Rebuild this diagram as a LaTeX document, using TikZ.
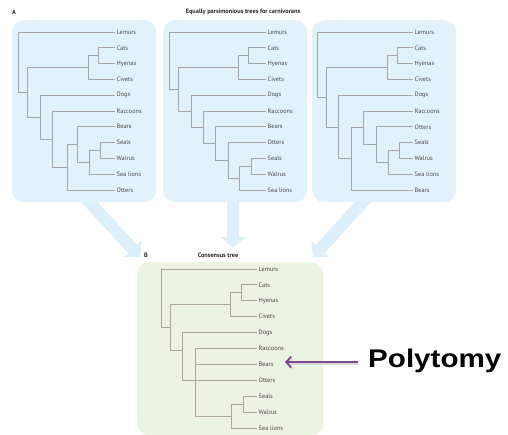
\documentclass[tikz,border=0pt]{standalone}
\usepackage{fontspec}
\setmainfont{PT Sans}
\newfontfamily\polyfont{Liberation Sans}
\usetikzlibrary{arrows.meta}
\definecolor{panelblue}{HTML}{E2F2FB}
\definecolor{arrowblue}{HTML}{DCEFFA}
\definecolor{panelgreen}{HTML}{EBF3E2}
\definecolor{treegray}{HTML}{A6A6A6}
\definecolor{treebrown}{HTML}{ABA792}
\definecolor{labelgray}{HTML}{484848}
\definecolor{polypurple}{HTML}{7B4A8B}
\tikzset{
  panel/.style={fill=panelblue, draw=none, rounded corners=12pt, anchor=north west, inner sep=0pt},
  cpanel/.style={fill=panelgreen, draw=none, rounded corners=12pt, anchor=north west, inner sep=0pt},
  leaf/.style={anchor=west, inner sep=1.5pt, font=\fontsize{6.3}{7}\selectfont, text=labelgray},
  tree/.style={draw=treegray, line width=0.85pt},
  ctree/.style={draw=treebrown, line width=0.85pt},
  bigarrow/.style={draw=arrowblue, line width=12pt, -{Triangle[length=11pt,width=24pt]}},
  titletext/.style={font=\bfseries\fontsize{6.3}{7}\selectfont, text=black!85, inner sep=0pt},
}
\begin{document}
\begin{tikzpicture}[x=1pt,y=-1pt]
\useasboundingbox (0,0) rectangle (508,435);
\fill[white] (0,0) rectangle (508,435);

% big arrows (behind panels)
\coordinate (s1) at (81,193);  \coordinate (t1) at (140,257);
\coordinate (s2) at (233,195); \coordinate (t2) at (233,248);
\coordinate (s3) at (371,193); \coordinate (t3) at (313,257);
\draw[bigarrow] (s1) -- (t1);
\draw[bigarrow] (s2) -- (t2);
\draw[bigarrow] (s3) -- (t3);

% panels
\node[panel, minimum width=144pt, minimum height=182pt] (pA1) at (12,20) {};
\node[panel, minimum width=144pt, minimum height=182pt] (pA2) at (163,20) {};
\node[panel, minimum width=144pt, minimum height=182pt] (pA3) at (312,20) {};
\node[cpanel, minimum width=186pt, minimum height=173pt] (pB) at (137,262) {};

% titles
\node[titletext] (lA) at (14,12) {A};
\node[titletext] (tA) at (243,12) {Equally parsimonious trees for carnivorans};
\node[titletext] (lB) at (146,255) {B};
\node[titletext] (tB) at (218,255) {Consensus tree};

% ---------- tree 1 ----------
\begin{scope}[shift={(0,32)}, y=-15.8pt]
\foreach \t [count=\i from 0] in {Lemurs,Cats,Hyenas,Civets,Dogs,Raccoons,Bears,Seals,Walrus,Sea lions,Otters}
  \node[leaf] (a\i) at (115,\i) {\t};
\coordinate (ach) at (98,1.5);
\coordinate (afe) at (88,2.25);
\coordinate (asw) at (100,7.5);
\coordinate (api) at (89,8.25);
\coordinate (abe) at (77,7.125);
\coordinate (aot) at (67,8.5625);
\coordinate (ara) at (52,6.78125);
\coordinate (aca) at (40,5.390625);
\coordinate (are) at (27,3.8203);
\coordinate (aro) at (18,1.910);
\draw[tree] (aro) |- (a0.west) (aro) |- (are)
  (are) |- (afe) (are) |- (aca)
  (afe) |- (ach) (afe) |- (a3.west)
  (ach) |- (a1.west) (ach) |- (a2.west)
  (aca) |- (a4.west) (aca) |- (ara)
  (ara) |- (a5.west) (ara) |- (aot)
  (aot) |- (abe) (aot) |- (a10.west)
  (abe) |- (a6.west) (abe) |- (api)
  (api) |- (asw) (api) |- (a9.west)
  (asw) |- (a7.west) (asw) |- (a8.west);
\end{scope}

% ---------- tree 2 ----------
\begin{scope}[shift={(0,32)}, y=-15.8pt]
\foreach \t [count=\i from 0] in {Lemurs,Cats,Hyenas,Civets,Dogs,Raccoons,Bears,Otters,Seals,Walrus,Sea lions}
  \node[leaf] (b\i) at (266,\i) {\t};
\coordinate (bch) at (248,1.5);
\coordinate (bfe) at (238,2.25);
\coordinate (bsw) at (251,8.5);
\coordinate (bpi) at (239,9.25);
\coordinate (bot) at (228,8.125);
\coordinate (bbe) at (215,7.0625);
\coordinate (bra) at (203,6.03125);
\coordinate (bca) at (191,5.015625);
\coordinate (bre) at (178,3.6328);
\coordinate (bro) at (169,1.8164);
\draw[tree] (bro) |- (b0.west) (bro) |- (bre)
  (bre) |- (bfe) (bre) |- (bca)
  (bfe) |- (bch) (bfe) |- (b3.west)
  (bch) |- (b1.west) (bch) |- (b2.west)
  (bca) |- (b4.west) (bca) |- (bra)
  (bra) |- (b5.west) (bra) |- (bbe)
  (bbe) |- (b6.west) (bbe) |- (bot)
  (bot) |- (b7.west) (bot) |- (bpi)
  (bpi) |- (bsw) (bpi) |- (b10.west)
  (bsw) |- (b8.west) (bsw) |- (b9.west);
\end{scope}

% ---------- tree 3 ----------
\begin{scope}[shift={(0,32)}, y=-15.8pt]
\foreach \t [count=\i from 0] in {Lemurs,Cats,Hyenas,Civets,Dogs,Raccoons,Otters,Seals,Walrus,Sea lions,Bears}
  \node[leaf] (c\i) at (413,\i) {\t};
\coordinate (cch) at (397,1.5);
\coordinate (cfe) at (387,2.25);
\coordinate (csw) at (399,7.5);
\coordinate (cpi) at (388,8.25);
\coordinate (cot) at (376,7.125);
\coordinate (cra) at (363,6.0625);
\coordinate (cbs) at (351,8.03125);
\coordinate (cca) at (338,6.015625);
\coordinate (cre) at (326,4.1328);
\coordinate (cro) at (317,2.066);
\draw[tree] (cro) |- (c0.west) (cro) |- (cre)
  (cre) |- (cfe) (cre) |- (cca)
  (cfe) |- (cch) (cfe) |- (c3.west)
  (cch) |- (c1.west) (cch) |- (c2.west)
  (cca) |- (c4.west) (cca) |- (cbs)
  (cbs) |- (cra) (cbs) |- (c10.west)
  (cra) |- (c5.west) (cra) |- (cot)
  (cot) |- (c6.west) (cot) |- (cpi)
  (cpi) |- (csw) (cpi) |- (c9.west)
  (csw) |- (c7.west) (csw) |- (c8.west);
\end{scope}

% ---------- consensus tree ----------
\begin{scope}[shift={(0,269)}, y=-15.9pt]
\foreach \t [count=\i from 0] in {Lemurs,Cats,Hyenas,Civets,Dogs,Raccoons,Bears,Otters,Seals,Walrus,Sea lions}
  \node[leaf] (d\i) at (257,\i) {\t};
\coordinate (dch) at (241,1.5);
\coordinate (dfe) at (230,2.25);
\coordinate (dsw) at (243,8.5);
\coordinate (dpi) at (231,9.25);
\coordinate (dpo) at (195,7);
\coordinate (dca) at (182,5.1);
\coordinate (dre) at (170,3.675);
\coordinate (dro) at (161,1.84);
\draw[ctree] (dro) |- (d0.west) (dro) |- (dre)
  (dre) |- (dfe) (dre) |- (dca)
  (dfe) |- (dch) (dfe) |- (d3.west)
  (dch) |- (d1.west) (dch) |- (d2.west)
  (dca) |- (d4.west) (dca) |- (d7.west)
  (dpo) |- (d5.west) (dpo) |- (d6.west) (dpo) |- (dpi)
  (dpi) |- (dsw) (dpi) |- (d10.west)
  (dsw) |- (d8.west) (dsw) |- (d9.west);
\end{scope}

% polytomy label and arrow
\node[anchor=west, inner sep=0pt, font=\polyfont\bfseries\fontsize{25.5}{28}\selectfont] (poly) at (368,361) {\scalebox{1.16}[1]{Polytomy}};
\coordinate (ptail) at (358,362);
\coordinate (ptip) at (285,362);
\draw[black!15, line width=2.5pt, -{Straight Barb[length=5pt,width=11pt]}] ([shift={(1,2)}]ptail) -- ([shift={(1,2)}]ptip);
\draw[polypurple, line width=1.8pt, -{Straight Barb[length=5pt,width=11pt]}] (ptail) -- (ptip);
\end{tikzpicture}
\end{document}
